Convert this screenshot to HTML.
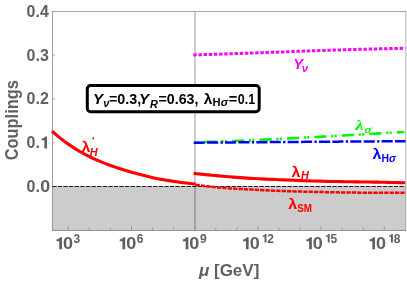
<!DOCTYPE html>
<html>
<head>
<meta charset="utf-8">
<title>Couplings</title>
<style>
html,body{margin:0;padding:0;background:#fff;}
body{width:407px;height:282px;overflow:hidden;}
svg{display:block;will-change:transform;}
text{font-family:"Liberation Sans",sans-serif;font-weight:bold;}
.tk{fill:#606060;font-size:17px;}
.tk.sup{font-size:12px;}
.ser{font-family:"Liberation Serif",serif;}
.i{font-style:italic;}
.lg{fill:#000;font-size:13.8px;}
.lgs{fill:#000;font-size:10.3px;}
.m{font-size:14.2px;}
.s{font-size:10.4px;}
</style>
</head>
<body>
<svg width="407" height="282" viewBox="0 0 407 282">
<rect x="0" y="0" width="407" height="282" fill="#ffffff"/>
<!-- shaded negative region -->
<rect x="52.5" y="186.1" width="353.3" height="44.3" fill="#cccccc"/>
<!-- vertical line at 10^9 -->
<line x1="195" y1="11.5" x2="195" y2="230.5" stroke="#000" stroke-opacity="0.4" stroke-width="1"/>
<!-- frame -->
<g stroke="#7c7c7c" fill="none">
<line x1="52.1" y1="11.5" x2="406.1" y2="11.5" stroke-width="0.7"/>
<line x1="405.85" y1="11.2" x2="405.85" y2="230.9" stroke-width="0.58"/>
<line x1="52.1" y1="230.5" x2="406.1" y2="230.5" stroke-width="0.8"/>
<line x1="52.5" y1="11.2" x2="52.5" y2="230.9" stroke-width="0.72"/>
</g>
<g stroke="#8e8e8e" stroke-width="0.8">
<line x1="52.5" y1="55.1" x2="54.8" y2="55.1"/>
<line x1="52.5" y1="98.9" x2="54.8" y2="98.9"/>
<line x1="52.5" y1="142.7" x2="54.8" y2="142.7"/>
<line x1="52.5" y1="186.5" x2="54.8" y2="186.5"/>
<line x1="68.3" y1="230.4" x2="68.3" y2="226.4"/>
<line x1="131.5" y1="230.4" x2="131.5" y2="226.4"/>
<line x1="194.7" y1="230.4" x2="194.7" y2="226.4"/>
<line x1="257.9" y1="230.4" x2="257.9" y2="226.4"/>
<line x1="321.1" y1="230.4" x2="321.1" y2="226.4"/>
<line x1="384.3" y1="230.4" x2="384.3" y2="226.4"/>
<line x1="89.4" y1="230.4" x2="89.4" y2="227.8"/>
<line x1="110.4" y1="230.4" x2="110.4" y2="227.8"/>
<line x1="152.6" y1="230.4" x2="152.6" y2="227.8"/>
<line x1="173.6" y1="230.4" x2="173.6" y2="227.8"/>
<line x1="215.8" y1="230.4" x2="215.8" y2="227.8"/>
<line x1="236.9" y1="230.4" x2="236.9" y2="227.8"/>
<line x1="279.0" y1="230.4" x2="279.0" y2="227.8"/>
<line x1="300.1" y1="230.4" x2="300.1" y2="227.8"/>
<line x1="342.2" y1="230.4" x2="342.2" y2="227.8"/>
<line x1="363.3" y1="230.4" x2="363.3" y2="227.8"/>
</g>

<!-- zero line -->
<line x1="52.3" y1="186.5" x2="405.5" y2="186.5" stroke="#1a1a1a" stroke-width="1.1" stroke-dasharray="4.3,1.3"/>

<!-- curves -->
<path d="M194.70,142.20 L198.25,142.11 L201.81,142.02 L205.36,141.92 L208.92,141.82 L212.47,141.71 L216.03,141.59 L219.58,141.48 L223.13,141.35 L226.69,141.23 L230.24,141.10 L233.80,140.96 L237.35,140.82 L240.91,140.68 L244.46,140.53 L248.01,140.39 L251.57,140.23 L255.12,140.08 L258.68,139.92 L262.23,139.75 L265.78,139.59 L269.34,139.42 L272.89,139.25 L276.45,139.07 L280.00,138.90 L283.56,138.72 L287.11,138.54 L290.66,138.36 L294.22,138.17 L297.77,137.98 L301.33,137.80 L304.88,137.61 L308.44,137.42 L311.99,137.22 L315.54,137.03 L319.10,136.83 L322.65,136.64 L326.21,136.44 L329.76,136.24 L333.32,136.04 L336.87,135.84 L340.42,135.64 L343.98,135.44 L347.53,135.24 L351.09,135.04 L354.64,134.84 L358.19,134.63 L361.75,134.43 L365.30,134.23 L368.86,134.02 L372.41,133.82 L375.97,133.62 L379.52,133.41 L383.07,133.21 L386.63,133.01 L390.18,132.80 L393.74,132.60 L397.29,132.40 L400.85,132.20 L404.40,132.00" fill="none" stroke="#00f800" stroke-width="2.6" stroke-dasharray="12.1,4.7,2.1,1.3,2.1,5.2" stroke-dashoffset="17.6"/>
<path d="M193.70,142.70 L197.29,142.67 L200.88,142.64 L204.47,142.61 L208.07,142.59 L211.66,142.56 L215.25,142.53 L218.84,142.50 L222.43,142.47 L226.02,142.45 L229.62,142.42 L233.21,142.39 L236.80,142.36 L240.39,142.34 L243.98,142.31 L247.57,142.28 L251.16,142.26 L254.76,142.23 L258.35,142.20 L261.94,142.18 L265.53,142.15 L269.12,142.12 L272.71,142.10 L276.31,142.07 L279.90,142.04 L283.49,142.02 L287.08,141.99 L290.67,141.97 L294.26,141.94 L297.85,141.92 L301.45,141.89 L305.04,141.86 L308.63,141.84 L312.22,141.81 L315.81,141.79 L319.40,141.76 L322.99,141.74 L326.59,141.71 L330.18,141.69 L333.77,141.67 L337.36,141.64 L340.95,141.62 L344.54,141.59 L348.14,141.57 L351.73,141.55 L355.32,141.52 L358.91,141.50 L362.50,141.47 L366.09,141.45 L369.68,141.43 L373.28,141.40 L376.87,141.38 L380.46,141.36 L384.05,141.34 L387.64,141.31 L391.23,141.29 L394.83,141.27 L398.42,141.24 L402.01,141.22 L405.60,141.20" fill="none" stroke="#0000ff" stroke-width="2.5" stroke-dasharray="11.08,2.32,11.08,2.32,2.32,2.2"/>
<path d="M193.30,54.90 L196.89,54.80 L200.49,54.70 L204.08,54.60 L207.67,54.49 L211.27,54.38 L214.86,54.27 L218.45,54.16 L222.05,54.04 L225.64,53.92 L229.23,53.80 L232.83,53.68 L236.42,53.56 L240.01,53.44 L243.61,53.31 L247.20,53.19 L250.79,53.06 L254.38,52.93 L257.98,52.80 L261.57,52.67 L265.16,52.54 L268.76,52.41 L272.35,52.28 L275.94,52.15 L279.54,52.02 L283.13,51.89 L286.72,51.76 L290.32,51.63 L293.91,51.50 L297.50,51.37 L301.10,51.24 L304.69,51.11 L308.28,50.98 L311.88,50.86 L315.47,50.73 L319.06,50.61 L322.66,50.48 L326.25,50.36 L329.84,50.24 L333.44,50.12 L337.03,50.01 L340.62,49.89 L344.22,49.78 L347.81,49.67 L351.40,49.56 L354.99,49.46 L358.59,49.35 L362.18,49.25 L365.77,49.16 L369.37,49.06 L372.96,48.97 L376.55,48.88 L380.15,48.80 L383.74,48.71 L387.33,48.64 L390.93,48.56 L394.52,48.49 L398.11,48.42 L401.71,48.36 L405.30,48.30" fill="none" stroke="#ff00ff" stroke-width="3" stroke-dasharray="3.4,1.76"/>
<path d="M195.50,184.70 L199.06,185.24 L202.61,185.73 L206.17,186.18 L209.72,186.60 L213.28,186.97 L216.84,187.32 L220.39,187.63 L223.95,187.92 L227.50,188.18 L231.06,188.43 L234.62,188.65 L238.17,188.86 L241.73,189.06 L245.28,189.25 L248.84,189.44 L252.39,189.62 L255.95,189.80 L259.51,189.98 L263.06,190.16 L266.62,190.32 L270.17,190.49 L273.73,190.64 L277.29,190.79 L280.84,190.93 L284.40,191.06 L287.95,191.19 L291.51,191.30 L295.07,191.41 L298.62,191.51 L302.18,191.60 L305.73,191.70 L309.29,191.78 L312.85,191.87 L316.40,191.95 L319.96,192.03 L323.51,192.10 L327.07,192.17 L330.63,192.24 L334.18,192.30 L337.74,192.36 L341.29,192.42 L344.85,192.47 L348.41,192.52 L351.96,192.56 L355.52,192.60 L359.07,192.64 L362.63,192.67 L366.18,192.70 L369.74,192.72 L373.30,192.74 L376.85,192.76 L380.41,192.77 L383.96,192.77 L387.52,192.77 L391.08,192.77 L394.63,192.76 L398.19,192.74 L401.74,192.72 L405.30,192.70" fill="none" stroke="#ff0000" stroke-width="2.5" stroke-dasharray="4.3,1.1"/>
<path d="M52.00,131.10 L54.43,133.26 L56.86,135.33 L59.30,137.33 L61.73,139.26 L64.16,141.12 L66.59,142.91 L69.03,144.63 L71.46,146.28 L73.89,147.88 L76.32,149.41 L78.75,150.87 L81.19,152.28 L83.62,153.62 L86.05,154.92 L88.48,156.15 L90.92,157.34 L93.35,158.48 L95.78,159.58 L98.21,160.64 L100.64,161.67 L103.08,162.66 L105.51,163.62 L107.94,164.54 L110.37,165.43 L112.81,166.29 L115.24,167.12 L117.67,167.93 L120.10,168.73 L122.53,169.52 L124.97,170.30 L127.40,171.04 L129.83,171.75 L132.26,172.42 L134.69,173.05 L137.13,173.67 L139.56,174.29 L141.99,174.92 L144.42,175.57 L146.86,176.21 L149.29,176.83 L151.72,177.41 L154.15,177.95 L156.58,178.45 L159.02,178.92 L161.45,179.36 L163.88,179.79 L166.31,180.20 L168.75,180.60 L171.18,180.99 L173.61,181.37 L176.04,181.73 L178.47,182.09 L180.91,182.42 L183.34,182.74 L185.77,183.04 L188.20,183.32 L190.64,183.57 L193.07,183.80 L195.50,184.00" fill="none" stroke="#ff0000" stroke-width="3.1"/>
<path d="M193.60,173.40 L197.19,173.77 L200.78,174.14 L204.36,174.50 L207.95,174.86 L211.54,175.21 L215.13,175.55 L218.72,175.88 L222.31,176.21 L225.89,176.52 L229.48,176.83 L233.07,177.12 L236.66,177.40 L240.25,177.66 L243.83,177.91 L247.42,178.14 L251.01,178.36 L254.60,178.56 L258.19,178.74 L261.77,178.92 L265.36,179.08 L268.95,179.24 L272.54,179.39 L276.13,179.54 L279.72,179.69 L283.30,179.84 L286.89,179.99 L290.48,180.14 L294.07,180.29 L297.66,180.44 L301.24,180.58 L304.83,180.72 L308.42,180.85 L312.01,180.97 L315.60,181.07 L319.18,181.17 L322.77,181.27 L326.36,181.35 L329.95,181.43 L333.54,181.50 L337.13,181.57 L340.71,181.63 L344.30,181.69 L347.89,181.74 L351.48,181.80 L355.07,181.85 L358.65,181.90 L362.24,181.95 L365.83,182.00 L369.42,182.05 L373.01,182.11 L376.59,182.16 L380.18,182.22 L383.77,182.29 L387.36,182.36 L390.95,182.43 L394.54,182.51 L398.12,182.60 L401.71,182.70 L405.30,182.80" fill="none" stroke="#ff0000" stroke-width="3.1"/>

<!-- y tick labels -->
<g class="tk" text-anchor="end" transform="scale(0.94,1)">
<text x="51.91" y="17.1">0.4</text>
<text x="51.91" y="60.8">0.3</text>
<text x="51.91" y="104.5">0.2</text>
</g>
<g class="tk" transform="scale(0.94,1)"><text x="28.3" y="192.2">0.</text></g>
<text class="tk" transform="translate(40.3,192.2) scale(1.05,1)">0</text>
<g class="tk" transform="scale(0.94,1)"><text x="28.3" y="148.4">0.</text></g>
<path d="M5.75,0 L3.05,0 L3.05,-8.1 L0.3,-8.1 L0.3,-9.8 Q3.2,-9.9 3.9,-12.0 L5.75,-12.0 Z" transform="translate(41.30,148.40) scale(1.0000)" fill="#606060"/>
<!-- x tick labels -->
<path d="M5.75,0 L3.05,0 L3.05,-8.1 L0.3,-8.1 L0.3,-9.8 Q3.2,-9.9 3.9,-12.0 L5.75,-12.0 Z" transform="translate(56.20,249.30) scale(1.0000)" fill="#606060"/><text class="tk" transform="translate(62.95,249.30) scale(1.06,1)">0</text><text class="tk sup" x="73.56" y="242.50">3</text>
<path d="M5.75,0 L3.05,0 L3.05,-8.1 L0.3,-8.1 L0.3,-9.8 Q3.2,-9.9 3.9,-12.0 L5.75,-12.0 Z" transform="translate(119.40,249.30) scale(1.0000)" fill="#606060"/><text class="tk" transform="translate(126.15,249.30) scale(1.06,1)">0</text><text class="tk sup" x="136.76" y="242.50">6</text>
<path d="M5.75,0 L3.05,0 L3.05,-8.1 L0.3,-8.1 L0.3,-9.8 Q3.2,-9.9 3.9,-12.0 L5.75,-12.0 Z" transform="translate(182.60,249.30) scale(1.0000)" fill="#606060"/><text class="tk" transform="translate(189.35,249.30) scale(1.06,1)">0</text><text class="tk sup" x="199.96" y="242.50">9</text>
<path d="M5.75,0 L3.05,0 L3.05,-8.1 L0.3,-8.1 L0.3,-9.8 Q3.2,-9.9 3.9,-12.0 L5.75,-12.0 Z" transform="translate(242.90,249.30) scale(1.0000)" fill="#606060"/><text class="tk" transform="translate(249.65,249.30) scale(1.06,1)">0</text><path d="M5.75,0 L3.05,0 L3.05,-8.1 L0.3,-8.1 L0.3,-9.8 Q3.2,-9.9 3.9,-12.0 L5.75,-12.0 Z" transform="translate(262.40,242.50) scale(0.7059)" fill="#606060"/><text class="tk sup" x="267.30" y="242.50">2</text>
<path d="M5.75,0 L3.05,0 L3.05,-8.1 L0.3,-8.1 L0.3,-9.8 Q3.2,-9.9 3.9,-12.0 L5.75,-12.0 Z" transform="translate(306.10,249.30) scale(1.0000)" fill="#606060"/><text class="tk" transform="translate(312.85,249.30) scale(1.06,1)">0</text><path d="M5.75,0 L3.05,0 L3.05,-8.1 L0.3,-8.1 L0.3,-9.8 Q3.2,-9.9 3.9,-12.0 L5.75,-12.0 Z" transform="translate(325.60,242.50) scale(0.7059)" fill="#606060"/><text class="tk sup" x="330.50" y="242.50">5</text>
<path d="M5.75,0 L3.05,0 L3.05,-8.1 L0.3,-8.1 L0.3,-9.8 Q3.2,-9.9 3.9,-12.0 L5.75,-12.0 Z" transform="translate(369.30,249.30) scale(1.0000)" fill="#606060"/><text class="tk" transform="translate(376.05,249.30) scale(1.06,1)">0</text><path d="M5.75,0 L3.05,0 L3.05,-8.1 L0.3,-8.1 L0.3,-9.8 Q3.2,-9.9 3.9,-12.0 L5.75,-12.0 Z" transform="translate(388.80,242.50) scale(0.7059)" fill="#606060"/><text class="tk sup" x="393.70" y="242.50">8</text>

<!-- axis labels -->
<text class="tk" x="199" y="276.1"><tspan class="i">μ</tspan> [GeV]</text>
<text class="tk" transform="translate(17.7,160.2) rotate(-90) scale(0.935,1)" style="font-size:17.5px">Couplings</text>

<!-- legend box -->
<rect x="87.3" y="85.5" width="171.9" height="26.2" rx="3.2" ry="3.2" fill="#fff" stroke="#000" stroke-width="3"/>
<text class="lg i" transform="translate(93.00,103.90) scale(1.100,1)">Y</text>
<text class="lgs i" transform="translate(103.30,106.60) scale(1.060,1)">ν</text>
<text class="lg" transform="translate(108.90,103.90) scale(1.040,1)">=0.3,</text>
<text class="lg i" transform="translate(139.00,103.90) scale(1.100,1)">Y</text>
<text class="lgs i" transform="translate(150.00,108.20) scale(1.060,1)">R</text>
<text class="lg" transform="translate(158.50,103.90) scale(1.030,1)">=0.63,</text>
<text class="lg" transform="translate(203.70,103.90) scale(1.120,1)">λ</text>
<text class="lgs" transform="translate(212.60,106.20) scale(1.080,1)">H<tspan class="i">σ</tspan></text>
<text class="lg" transform="translate(228.80,103.90) scale(1.060,1)">=</text>
<text class="lg" transform="translate(237.80,103.90) scale(0.900,1)">0.1</text>

<!-- curve labels -->
<g fill="#ff00ff"><text class="i" style="font-size:15.2px" transform="translate(293.2,68.8) scale(0.98,1)">Y</text><text class="s i" transform="translate(301.80,71.60) scale(1.100,1)">ν</text></g>
<g fill="#00f800"><text class="ser i" style="font-size:15px" transform="translate(355.3,130.3) scale(1.25,1)">λ</text><text class="ser i" style="font-size:11px" transform="translate(364.2,132.7) scale(1.25,1)">σ</text></g>
<g fill="#0000ff"><text class="m" transform="translate(372.40,159.10) scale(1.120,1)">λ</text><text class="s" transform="translate(381.60,161.50) scale(1.000,1)">H<tspan class="i">σ</tspan></text></g>
<g fill="#ff0000"><text class="m" transform="translate(291.60,176.70) scale(1.120,1)">λ</text><text class="s i" transform="translate(300.90,178.90) scale(1.050,1)">H</text></g>
<g fill="#ff0000"><text class="m" transform="translate(288.20,209.20) scale(1.120,1)">λ</text><text class="s" transform="translate(297.20,211.90) scale(0.950,1)">SM</text></g>
<g fill="#ff0000"><text class="m" transform="translate(81.60,151.80) scale(1.120,1)">λ</text><text class="s i" transform="translate(89.80,155.50) scale(1.050,1)">H</text><text class="s" transform="translate(92.10,144.60) scale(1.000,1)">'</text></g>
</svg>
</body>
</html>
